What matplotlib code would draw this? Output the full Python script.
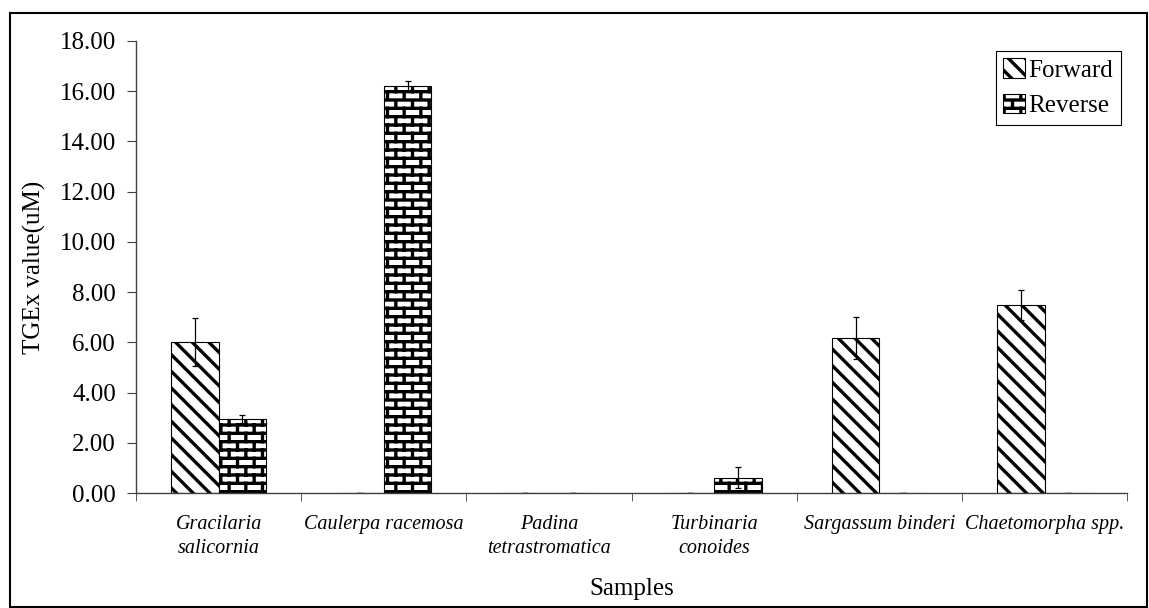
import numpy as np
import matplotlib
matplotlib.use("Agg")
import matplotlib.pyplot as plt
from matplotlib import hatch as mhatch
from matplotlib.path import Path
from matplotlib.patches import Rectangle

# data
samples = ["Gracilaria\nsalicornia", "Caulerpa racemosa", "Padina\ntetrastromatica",
           "Turbinaria\nconoides", "Sargassum binderi", "Chaetomorpha spp."]
forward = [6.02, 0.0, 0.0, 0.0, 6.18, 7.50]
forward_err = [0.97, 0.0, 0.0, 0.0, 0.83, 0.60]
reverse = [2.96, 16.19, 0.0, 0.62, 0.0, 0.0]
reverse_err = [0.16, 0.20, 0.0, 0.40, 0.0, 0.0]
yticks = [0, 2, 4, 6, 8, 10, 12, 14, 16, 18]


# brick hatch, hooked onto the '*' character
class BrickHatch(mhatch.HatchPatternBase):
    def __init__(self, hatch, density):
        self.on = hatch.count('*') > 0
        self.rows = 12
        self.cols = 6
        if self.on:
            self.num_vertices = (self.rows + 1) * 2 + self.rows * self.cols * 2
        else:
            self.num_vertices = 0

    def set_vertices_and_codes(self, vertices, codes):
        i = 0
        for k in range(self.rows + 1):
            y = k / self.rows
            vertices[i] = (0, y); codes[i] = Path.MOVETO
            vertices[i + 1] = (1, y); codes[i + 1] = Path.LINETO
            i += 2
        for k in range(self.rows):
            y0 = k / self.rows
            y1 = (k + 1) / self.rows
            for j in range(self.cols):
                x = (j + 0.25 + 0.5 * (k % 2)) / self.cols
                vertices[i] = (x, y0); codes[i] = Path.MOVETO
                vertices[i + 1] = (x, y1); codes[i + 1] = Path.LINETO
                i += 2


mhatch._hatch_types = [t for t in mhatch._hatch_types if t.__name__ != 'Stars'] + [BrickHatch]

plt.rcParams['font.family'] = ['Liberation Serif', 'DejaVu Serif']
plt.rcParams['hatch.linewidth'] = 2.4
plt.rcParams['hatch.color'] = 'black'

fig = plt.figure(figsize=(11.49, 6.08), dpi=100)
ax = fig.add_axes([0.1184, 0.189, 0.8626, 0.7436])

x = np.arange(len(samples))
w = 0.287
ax.bar(x - w / 2, forward, w, color='white', edgecolor='black', linewidth=0.8,
       hatch='\\\\', label='Forward')
ax.bar(x + w / 2, reverse, w, color='white', edgecolor='black', linewidth=0.8,
       hatch='*', label='Reverse')
ax.errorbar(x - w / 2, forward, yerr=forward_err, fmt='none', ecolor='black',
            elinewidth=0.9, capsize=2.5, capthick=0.9)
ax.errorbar(x + w / 2, reverse, yerr=reverse_err, fmt='none', ecolor='black',
            elinewidth=0.9, capsize=2.5, capthick=0.9)

ax.set_ylim(0, 18)
ax.set_xlim(-0.5, len(samples) - 0.5)
ax.set_yticks(yticks)
ax.set_yticklabels(['%.2f' % v for v in yticks], fontsize=18)
ax.set_xticks(x)
ax.set_xticklabels(samples, fontsize=14.5, style='italic', linespacing=1.3)
ax.set_xticks(np.arange(len(samples) + 1) - 0.5, minor=True)
ax.tick_params(axis='x', which='major', length=0, pad=16)
ax.tick_params(axis='x', which='minor', length=6, direction='out', color='#404040')
ax.tick_params(axis='y', length=6.5, direction='out', color='#404040', pad=8)

ax.spines['top'].set_visible(False)
ax.spines['right'].set_visible(False)
for s in ['left', 'bottom']:
    ax.spines[s].set_color('#404040')
    ax.spines[s].set_linewidth(1.0)

ax.set_ylabel('TGEx value(uM)', fontsize=18, labelpad=9.5)
ax.set_xlabel('Samples', fontsize=18, labelpad=15)

leg = ax.legend(loc='upper right', bbox_to_anchor=(0.9935, 0.978), fontsize=18,
                frameon=True, fancybox=False, edgecolor='black', framealpha=1,
                handlelength=0.85, handleheight=0.8, handletextpad=0.15,
                borderpad=0.3, labelspacing=0.5, borderaxespad=0)
leg.get_frame().set_linewidth(0.8)

fig.patches.append(Rectangle((0.009, 0.002), 0.989, 0.977, transform=fig.transFigure,
                             fill=False, edgecolor='black', linewidth=1.5))

fig.savefig('out.png', dpi=100)
